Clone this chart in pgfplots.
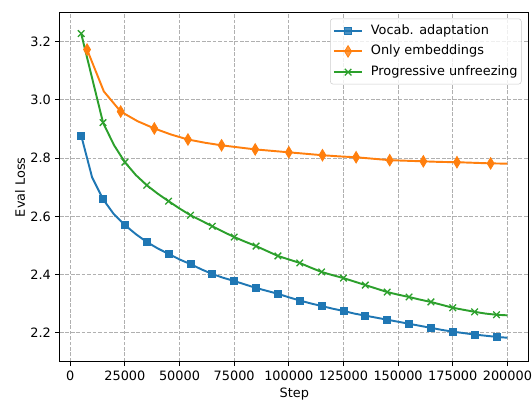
\documentclass[border=0pt]{standalone}
\usepackage{fontspec}
\setmainfont{DejaVu Sans}
\usepackage{pgfplots}
\pgfplotsset{compat=1.18}
\definecolor{tabblue}{HTML}{1F77B4}
\definecolor{taborange}{HTML}{FF7F0E}
\definecolor{tabgreen}{HTML}{2CA02C}
\definecolor{gridgray}{HTML}{B0B0B0}

\begin{document}
\begin{tikzpicture}
\begin{axis}[
    scale only axis,
    width=364.25pt,
    height=271pt,
    xmin=-4750, xmax=209750,
    ymin=2.1007, ymax=3.299,
    xtick={0,25000,50000,75000,100000,125000,150000,175000,200000},
    ytick={2.2,2.4,2.6,2.8,3.0,3.2},
    scaled x ticks=false,
    /pgf/number format/assume math mode=true,
    xticklabel style={/pgf/number format/fixed, /pgf/number format/1000 sep={}, inner xsep=0pt},
    yticklabel style={/pgf/number format/fixed, /pgf/number format/fixed zerofill, /pgf/number format/precision=1},
    tick align=outside,
    major tick length=3.5pt,
    tick style={black, line width=0.8pt},
    xtick pos=bottom, ytick pos=left,
    axis line style={black, line width=0.8pt},
    grid=major,
    grid style={gridgray, line width=0.8pt, dash pattern=on 2.96pt off 1.28pt},
    font=\fontsize{10}{12}\selectfont,
    xlabel={Step},
    ylabel={Eval Loss},
    x label style={at={(axis description cs:0.5,-0.093)}, anchor=center, inner sep=0pt},
    y label style={at={(axis description cs:-0.085,0.5)}, anchor=center},
    legend cell align=left,
    legend style={at={(1,1)}, xshift=-5.8pt, yshift=-4.6pt, anchor=north east,
        outer sep=0pt, inner xsep=2pt, inner ysep=2.5pt, draw=black!20,
        rounded corners=2pt, fill=white, fill opacity=0.8, text opacity=1,
        font=\fontsize{10}{12}\selectfont, row sep=2.6pt,
        nodes={inner xsep=1pt, inner ysep=2pt, text height=7.5pt, text depth=2pt}},
    legend image code/.code={\draw[mark repeat=2,mark phase=2,#1] plot coordinates {(0pt,0pt)(11pt,0pt)(22pt,0pt)};
        \path (27pt,0pt);},
]
\addplot[tabblue, line width=1.5pt, mark=square*, mark size=2.7pt, mark repeat=2, mark phase=1,
    mark options={solid, line width=0.6pt}] coordinates {
(5000,2.878) (10000,2.734) (15000,2.659) (20000,2.607) (25000,2.570)
(30000,2.539) (35000,2.512) (40000,2.490) (45000,2.471) (50000,2.452)
(55000,2.436) (60000,2.418) (65000,2.402) (70000,2.389) (75000,2.378)
(80000,2.366) (85000,2.354) (90000,2.344) (95000,2.334) (100000,2.322)
(105000,2.311) (110000,2.301) (115000,2.292) (120000,2.283) (125000,2.275)
(130000,2.266) (135000,2.259) (140000,2.252) (145000,2.245) (150000,2.238)
(155000,2.231) (160000,2.224) (165000,2.217) (170000,2.210) (175000,2.204)
(180000,2.199) (185000,2.194) (190000,2.190) (195000,2.186) (200000,2.183)
};
\addplot[taborange, line width=1.5pt, mark=diamond*, mark size=4.5pt, mark repeat=2, mark phase=1,
    mark options={solid, line width=0.6pt, xscale=0.8}] coordinates {
(7692,3.173) (15385,3.029) (23077,2.960) (30769,2.927) (38462,2.902)
(46154,2.881) (53846,2.864) (61538,2.853) (69231,2.844) (76923,2.837)
(84615,2.830) (92308,2.825) (100000,2.820) (107692,2.815) (115385,2.810)
(123077,2.806) (130769,2.803) (138462,2.798) (146154,2.793) (153846,2.791)
(161538,2.789) (169231,2.787) (176923,2.786) (184615,2.784) (192308,2.782)
(200000,2.781)
};
\addplot[tabgreen, line width=1.5pt, mark=x, mark size=3.6pt, mark repeat=2, mark phase=1,
    mark options={solid, line width=1pt}] coordinates {
(5000,3.228) (10000,3.075) (15000,2.922) (20000,2.845) (25000,2.786)
(30000,2.742) (35000,2.707) (40000,2.678) (45000,2.652) (50000,2.627)
(55000,2.604) (60000,2.585) (65000,2.566) (70000,2.547) (75000,2.529)
(80000,2.513) (85000,2.498) (90000,2.481) (95000,2.464) (100000,2.452)
(105000,2.440) (110000,2.424) (115000,2.409) (120000,2.398) (125000,2.388)
(130000,2.376) (135000,2.364) (140000,2.352) (145000,2.340) (150000,2.331)
(155000,2.323) (160000,2.314) (165000,2.306) (170000,2.296) (175000,2.286)
(180000,2.279) (185000,2.272) (190000,2.266) (195000,2.262) (200000,2.260)
};
\legend{Vocab. adaptation, Only embeddings, Progressive unfreezing}
\end{axis}
\path ([shift={(-46.5pt,-31.8pt)}]current axis.south west) rectangle ([shift={(0pt,10pt)}]current axis.north east);
\end{tikzpicture}
\end{document}
